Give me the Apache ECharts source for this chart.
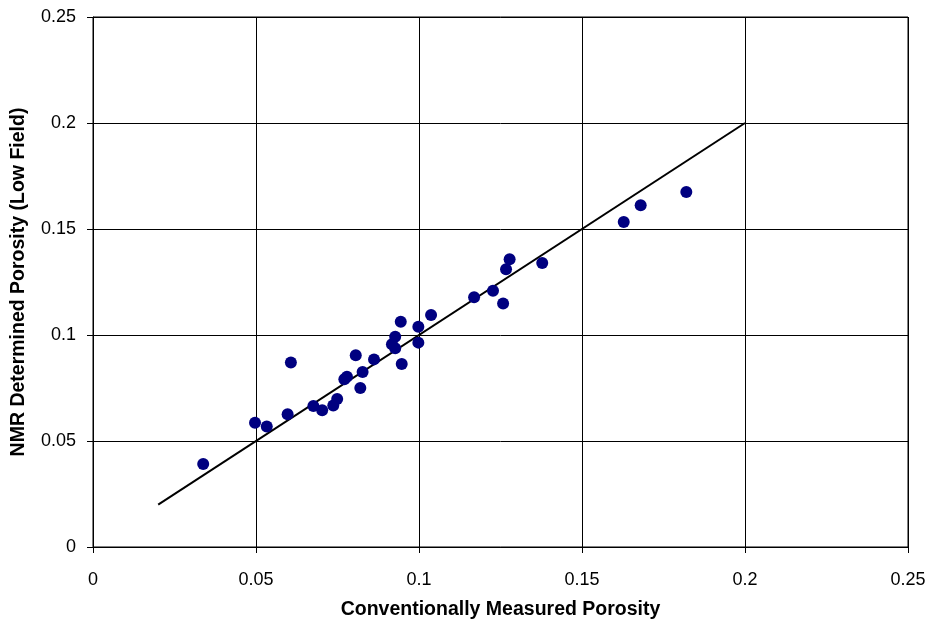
<!DOCTYPE html>
<html>
<head>
<meta charset="utf-8">
<script src="https://cdn.jsdelivr.net/npm/echarts@6/dist/echarts.min.js"></script>
<style>
  html, body { margin: 0; padding: 0; background: #fff; }
  #chart { width: 931px; height: 624px; }
</style>
</head>
<body>
<div id="chart"></div>
<script>
// Conventional (x) vs NMR low-field (y) porosity, one entry per sample
const conventionalPorosity = [
  0.0338, 0.0497, 0.0533, 0.0597, 0.0607, 0.0676, 0.0703, 0.0737, 0.0749,
  0.0771, 0.0779, 0.0806, 0.0820, 0.0827, 0.0862, 0.0917, 0.0927, 0.0927,
  0.0944, 0.0947, 0.0998, 0.0998, 0.1037, 0.1169, 0.1227, 0.1258, 0.1267,
  0.1278, 0.1378, 0.1628, 0.1680, 0.1820
];
const nmrPorosity = [
  0.0392, 0.0586, 0.0568, 0.0626, 0.0870, 0.0665, 0.0645, 0.0668, 0.0698,
  0.0791, 0.0803, 0.0904, 0.0750, 0.0825, 0.0885, 0.0956, 0.0992, 0.0937,
  0.1063, 0.0863, 0.0964, 0.1039, 0.1094, 0.1178, 0.1209, 0.1149, 0.1310,
  0.1357, 0.1340, 0.1533, 0.1612, 0.1675
];
// 1:1 reference line end points
const unityLineX = [0.02, 0.2];
const unityLineY = [0.02, 0.2];
const tickValues = [0, 0.05, 0.1, 0.15, 0.2, 0.25];

const points = conventionalPorosity.map((x, i) => [x, nmrPorosity[i]]);
const unityLine = unityLineX.map((x, i) => [x, unityLineY[i]]);

const fontFamily = '"Liberation Sans", Arial, sans-serif';

function axisCommon(name, nameGap, labelMargin) {
  return {
    type: 'value',
    min: tickValues[0],
    max: tickValues[tickValues.length - 1],
    interval: 0.05,
    name: name,
    nameLocation: 'middle',
    nameGap: nameGap,
    nameTextStyle: { fontFamily, fontSize: 19.5, fontWeight: 'bold', color: '#000' },
    axisLine: { show: true, lineStyle: { color: '#000', width: 1 } },
    axisTick: { show: true, length: 6, lineStyle: { color: '#000', width: 1 } },
    axisLabel: {
      fontFamily, fontSize: 18, color: '#000', margin: labelMargin,
      hideOverlap: false,
      formatter: v => String(parseFloat(v.toFixed(2)))
    },
    splitLine: { show: true, lineStyle: { color: '#000', width: 1 } }
  };
}

const chart = echarts.init(document.getElementById('chart'), null, { renderer: 'canvas' });
chart.setOption({
  animation: false,
  backgroundColor: '#fff',
  grid: {
    left: 93, right: 23, top: 17, bottom: 77,
    containLabel: false, outerBoundsMode: 'none',
    show: true, borderColor: '#000', borderWidth: 1
  },
  xAxis: axisCommon('Conventionally Measured Porosity', 53, 24),
  yAxis: axisCommon('NMR Determined Porosity (Low Field)', 64, 17),
  series: [
    {
      type: 'line',
      data: unityLine,
      symbol: 'none',
      lineStyle: { color: '#000', width: 2 },
      z: 2
    },
    {
      type: 'scatter',
      data: points,
      symbol: 'circle',
      symbolSize: 12,
      itemStyle: { color: '#000080', opacity: 1 },
      z: 3
    }
  ]
});
</script>
</body>
</html>
